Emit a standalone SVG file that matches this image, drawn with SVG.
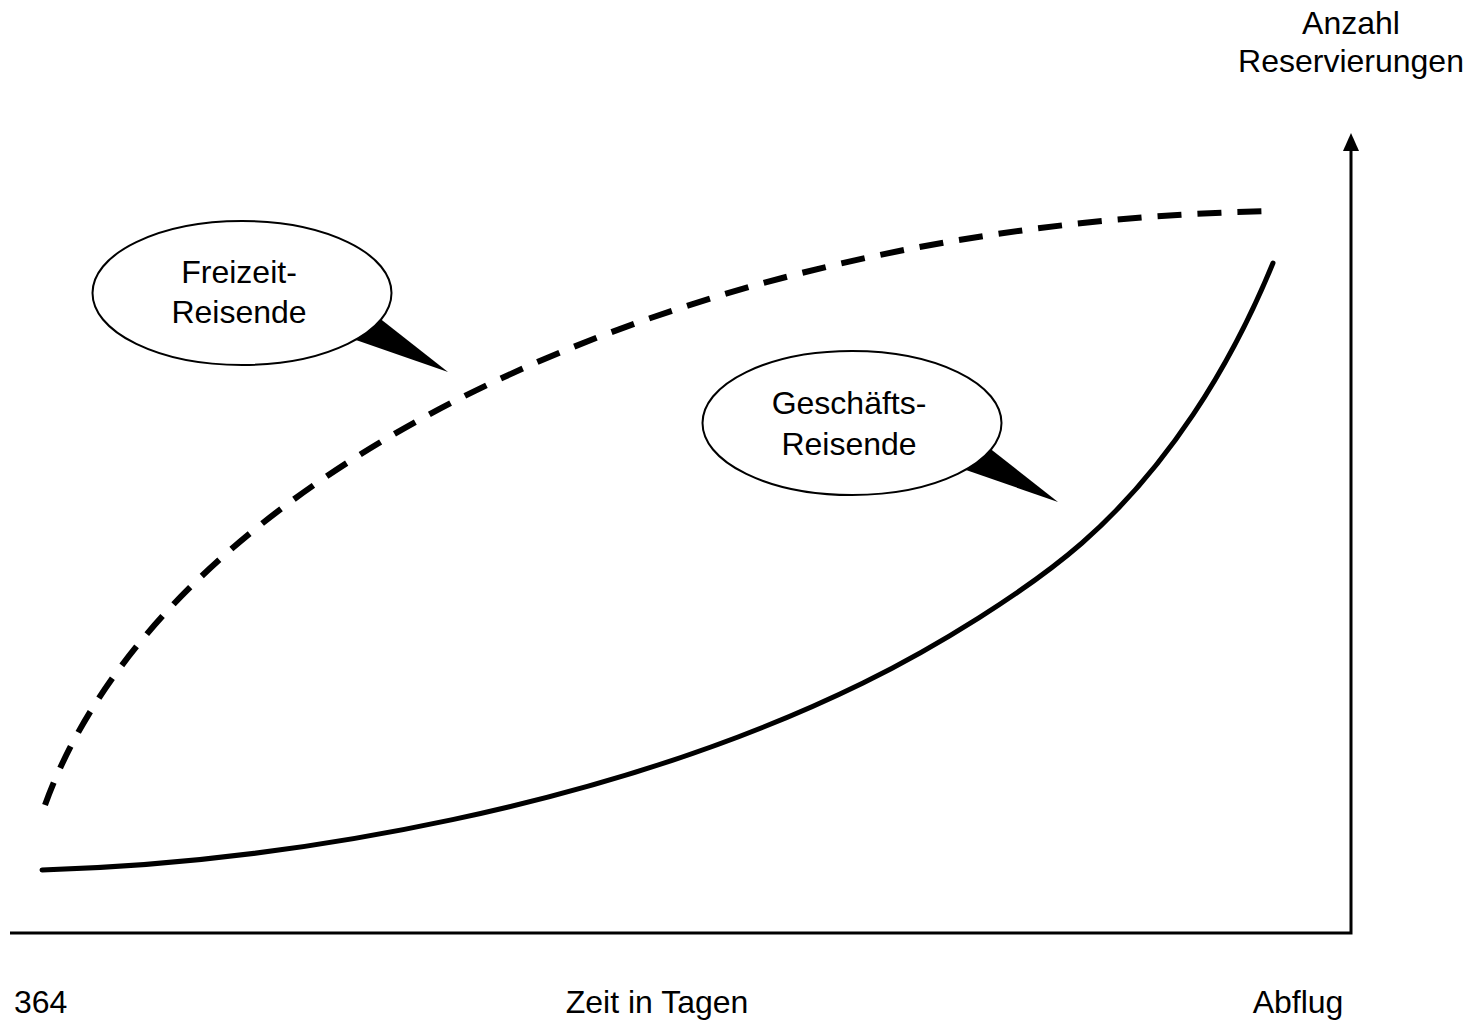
<svg xmlns="http://www.w3.org/2000/svg" width="1475" height="1022" viewBox="0 0 1475 1022">
  <style>
    .label { font-family: "Liberation Sans", Arial, sans-serif; font-size: 32px; fill: #000; }
    .mid { text-anchor: middle; }
    .axis { fill: none; stroke: #000; stroke-width: 3; }
    .bubble { fill: #fff; stroke: #000; stroke-width: 2; }
    .tail { fill: #000; stroke: none; }
    .curve-solid { fill: none; stroke: #000; stroke-width: 5; stroke-linecap: round; }
    .curve-dashed { fill: none; stroke: #000; stroke-width: 6; stroke-dasharray: 24 16; }
  </style>
  <defs>
    <!-- speech bubble: tail first, ellipse on top -->
    <g id="bubble-shape">
      <polygon class="tail" points="448,372 350,295 330,331"/>
      <ellipse class="bubble" cx="242" cy="293" rx="149.5" ry="72"/>
    </g>
  </defs>

  <!-- axes -->
  <g id="axes">
    <path class="axis" d="M10,933 H1351 V150"/>
    <path d="M1343,151 L1351,133 L1359,151 Z" fill="#000"/>
  </g>

  <!-- booking curves -->
  <g id="connectors">
    <path id="curve-leisure" class="curve-dashed" d="M45,805 C164,476 673,223 1273,211"/>
    <path id="curve-business" class="curve-solid" d="M42,870
      C292,862.5 613,805.5 863,683
      C936,647.2 1027,591 1082,543
      C1167,468.5 1230,368 1273,263"/>
  </g>

  <!-- callouts -->
  <g id="node-freizeit">
    <use href="#bubble-shape"/>
    <text class="label mid" x="239" y="283">Freizeit-</text>
    <text class="label mid" x="239" y="323">Reisende</text>
  </g>
  <g id="node-geschaeft">
    <use href="#bubble-shape" transform="translate(610,130)"/>
    <text class="label mid" x="849" y="414">Geschäfts-</text>
    <text class="label mid" x="849" y="455">Reisende</text>
  </g>

  <!-- axis labels -->
  <g id="node-y-label">
    <text class="label mid" x="1351" y="34">Anzahl</text>
    <text class="label mid" x="1351" y="72">Reservierungen</text>
  </g>
  <g id="node-x-start"><text class="label" x="14" y="1013">364</text></g>
  <g id="node-x-label"><text class="label mid" x="657" y="1013">Zeit in Tagen</text></g>
  <g id="node-x-end"><text class="label mid" x="1298" y="1013">Abflug</text></g>
</svg>
